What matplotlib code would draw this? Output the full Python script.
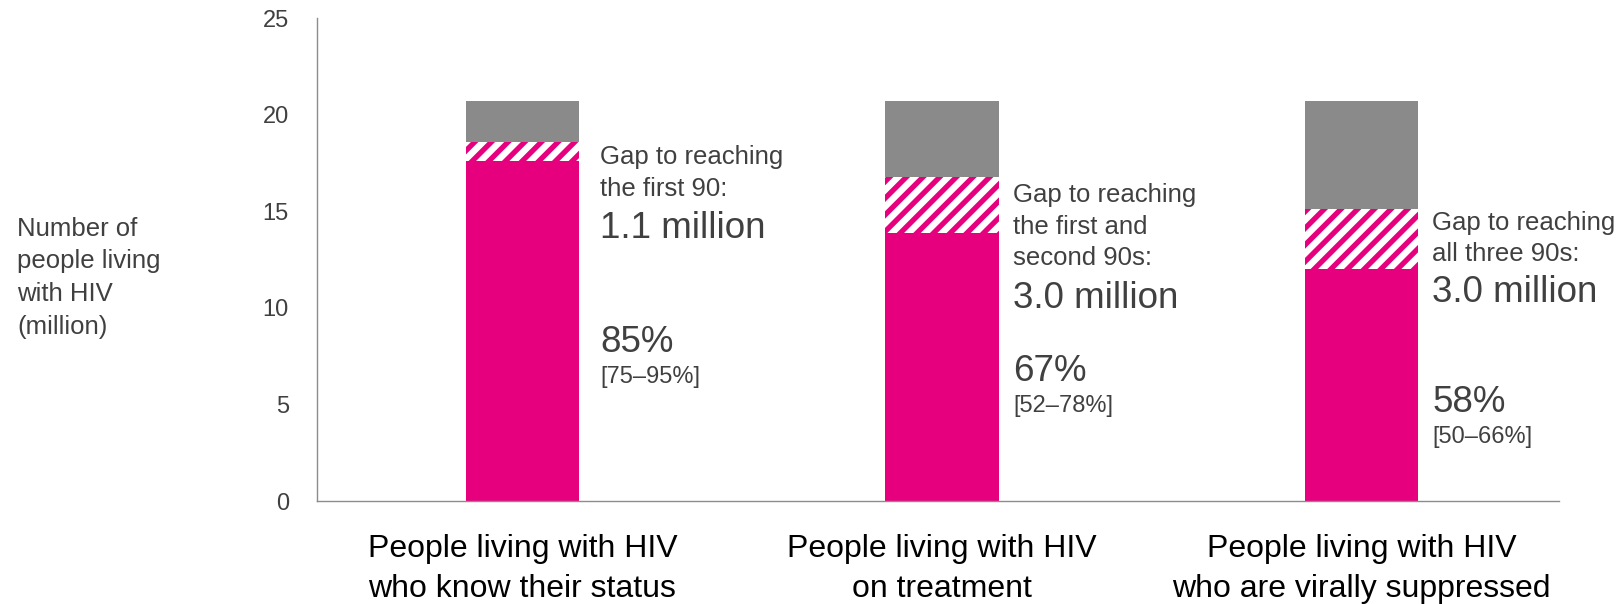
import numpy as np
import matplotlib
matplotlib.use('Agg')
from matplotlib import pyplot as plt

plt.rcParams['font.family'] = ['Liberation Sans', 'DejaVu Sans']
plt.rcParams['hatch.linewidth'] = 3.8

# data (million people living with HIV)
categories = ['People living with HIV\nwho know their status',
              'People living with HIV\non treatment',
              'People living with HIV\nwho are virally suppressed']
total_plhiv = 20.7
achieved = [17.6, 13.9, 12.0]
target = [18.6, 16.8, 15.1]
gap_text = ['Gap to reaching\nthe first 90:',
            'Gap to reaching\nthe first and\nsecond 90s:',
            'Gap to reaching\nall three 90s:']
gap_value = ['1.1 million', '3.0 million', '3.0 million']
pct_text = ['85%', '67%', '58%']
range_text = ['[75–95%]', '[52–78%]', '[50–66%]']

# label layout (data units)
label_dx = [0.185, 0.170, 0.168]
gap_top = [18.41, 16.45, 15.01]
million_y = [14.1, 10.5, 10.8]
pct_y = [8.2, 6.7, 5.1]

pink = '#E6007E'
grey = '#8A8A8A'
txt = '#404040'

fig = plt.figure(figsize=(16.24, 6.04), dpi=100)
ax = fig.add_axes([0.195, 0.1705, 0.765, 0.7995])

x = np.arange(len(categories))
w = 0.27
achieved = np.array(achieved)
target = np.array(target)
gap = target - achieved
rest = total_plhiv - target

ax.bar(x, achieved, w, color=pink, linewidth=0)
ax.bar(x, gap, w, bottom=achieved, facecolor='white', edgecolor=pink,
       hatch='//', linewidth=0)
ax.bar(x, rest, w, bottom=target, color=grey, linewidth=0)

# annotations to the right of each bar
for i in range(len(x)):
    tx = x[i] + label_dx[i]
    ax.text(tx, gap_top[i], gap_text[i], fontsize=18.5, color=txt, va='top',
            ha='left', linespacing=1.39)
    ax.text(tx, million_y[i], gap_value[i], fontsize=26.5, color=txt,
            va='center', ha='left')
    ax.text(tx, pct_y[i], pct_text[i], fontsize=26.5, color=txt,
            va='center', ha='left')
    ax.text(tx, pct_y[i] - 1.8, range_text[i], fontsize=17, color=txt,
            va='center', ha='left')

ax.set_xlim(-0.49, 2.47)
ax.set_ylim(0, 25)
ax.set_yticks([0, 5, 10, 15, 20, 25])
ax.set_xticks(x)
ax.set_xticklabels(categories, fontsize=23, color='black', linespacing=1.47)
ax.tick_params(axis='y', length=0, pad=20, labelsize=17, labelcolor=txt)
ax.tick_params(axis='x', length=0, pad=23.5)
for s in ['top', 'right']:
    ax.spines[s].set_visible(False)
for s in ['left', 'bottom']:
    ax.spines[s].set_color('#8C8C8C')
    ax.spines[s].set_linewidth(1)

fig.text(0.0105, 0.540, 'Number of\npeople living\nwith HIV\n(million)',
         fontsize=18.5, color=txt, ha='left', va='center', linespacing=1.46)

fig.savefig('out.png', dpi=100)
